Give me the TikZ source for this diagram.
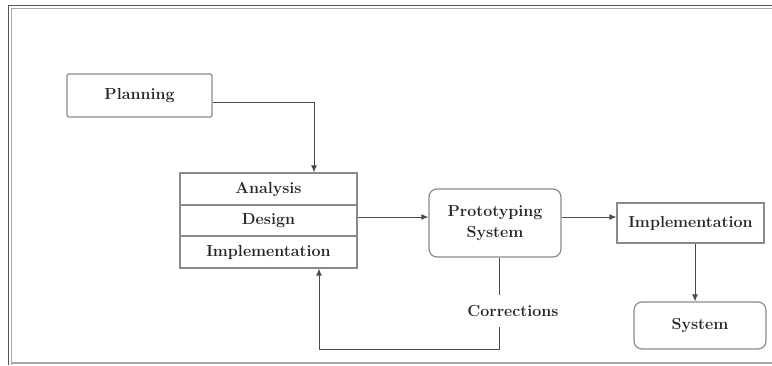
\documentclass[tikz,border=0pt]{standalone}
\usetikzlibrary{arrows.meta,calc}
\definecolor{boxgray}{HTML}{8A8A8A}
\definecolor{linegray}{HTML}{4A4A4A}
\definecolor{framedark}{HTML}{555555}
\definecolor{framelight}{HTML}{A8A8A8}
\tikzset{
  txt/.style={font=\fontsize{16}{18}\selectfont\bfseries, text=black!85},
  sqbox/.style={txt, draw=boxgray, line width=1.2pt, rounded corners=1.5pt, inner sep=0pt, align=center},
  rbox/.style={txt, draw=boxgray, line width=1.2pt, rounded corners=8pt, inner sep=0pt, align=center},
  cell/.style={txt, draw=boxgray, line width=1.1pt, inner sep=0pt, minimum width=177pt},
  conn/.style={draw=linegray, line width=1pt},
  arr/.style={conn, -{Latex[length=7pt,width=6pt]}},
}
\begin{document}
\begin{tikzpicture}[x=1pt,y=-1pt]
\useasboundingbox (0,0) rectangle (772,365);
% frame
\draw[framedark, line width=1.6pt] (8.5,365) -- (8.5,5.5) -- (772,5.5);
\draw[framelight, line width=1.6pt] (11.5,365) -- (11.5,8.5) -- (772,8.5);
\draw[framelight, line width=1.4pt] (11.5,363) -- (772,363);
% nodes
\node[sqbox, minimum width=145pt, minimum height=43pt] (planning) at (139.5,95.5) {Planning};
\node[cell, minimum height=32pt] (ana) at (268.5,189) {Analysis};
\node[cell, minimum height=31pt] (des) at (268.5,220.5) {Design};
\node[cell, minimum height=32pt] (imp1) at (268.5,252) {Implementation};
\node[rbox, minimum width=132pt, minimum height=68pt] (proto) at (495,223) {Prototyping\\[3pt]System};
\node[sqbox, rounded corners=0pt, minimum width=147pt, minimum height=40pt] (impl) at (690.5,223) {Implementation};
\node[rbox, minimum width=132pt, minimum height=47pt] (sys) at (700,325.5) {System};
\node[txt, inner sep=0pt, minimum height=32pt] (corr) at (513,311) {Corrections};
% connectors
\draw[arr] ([yshift=-6.5pt]planning.east) -| ([xshift=45.5pt]ana.north);
\coordinate (r) at ([yshift=3.5pt]des.east);
\draw[arr] (r) -- (r -| proto.west);
\draw[arr] (proto.east |- r) -- (impl.west |- r);
\draw[arr] ([xshift=4.5pt]impl.south) -- ([xshift=4.5pt]impl.south |- sys.north);
\coordinate (cx) at ([xshift=4pt]proto.south);
\draw[conn] (cx) -- (cx |- corr.north);
\draw[arr] (cx |- corr.south) -- (cx |- sys.south) -| ([xshift=50.5pt]imp1.south);
\end{tikzpicture}
\end{document}
